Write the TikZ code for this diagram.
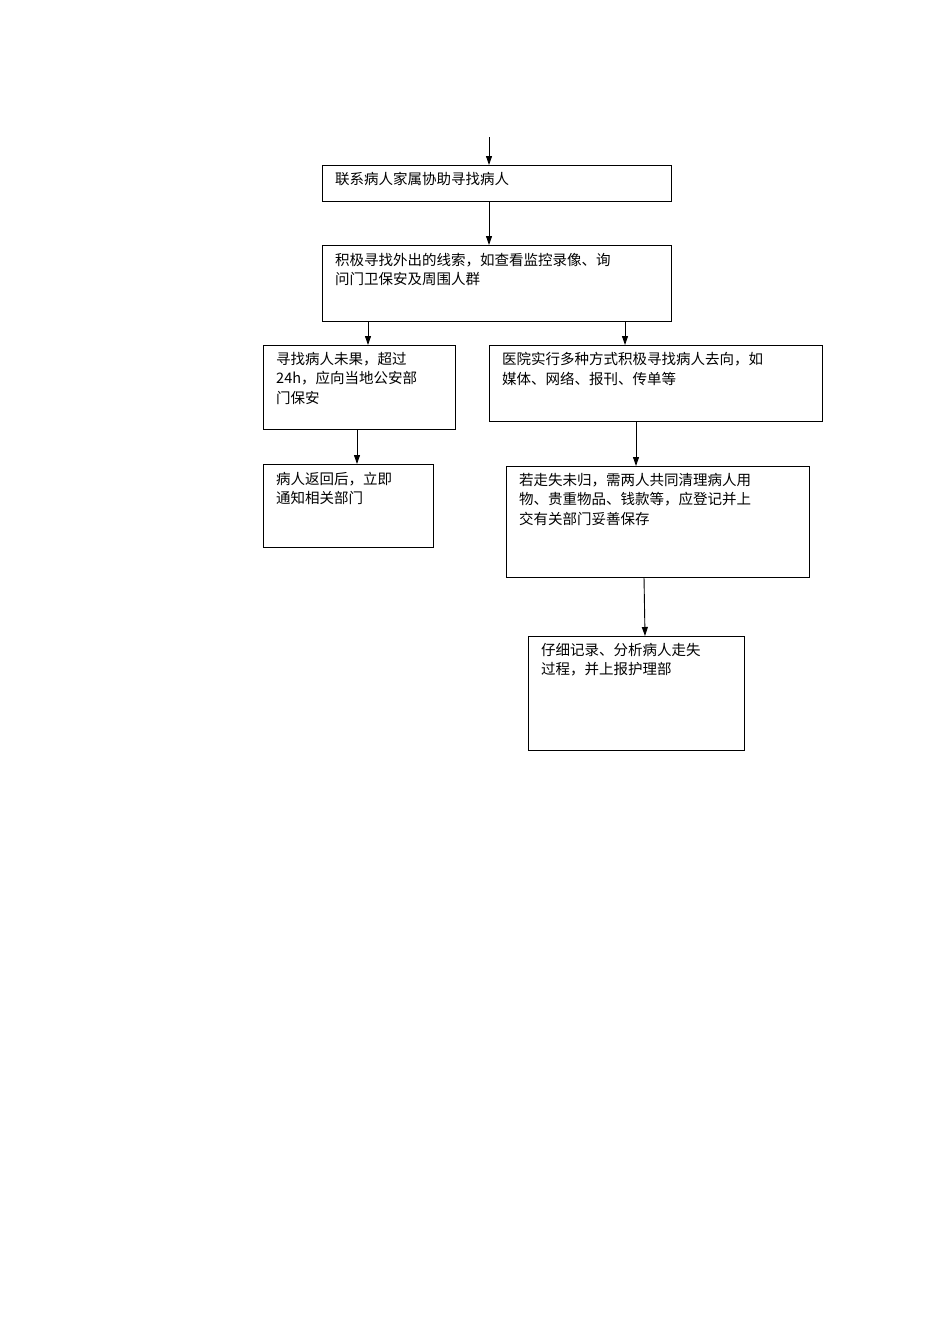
\documentclass[tikz,border=0pt]{standalone}
\usepackage{fontspec}
\setmainfont{Liberation Serif}
\newfontfamily\cjk{Noto Sans CJK SC}
\usetikzlibrary{arrows.meta}
\begin{document}
\begin{tikzpicture}[x=1pt,y=-1pt,
  boxst/.style={draw,line width=0.9pt,inner sep=0pt,anchor=north west},
  txt/.style={anchor=north west,inner sep=0pt,align=left,font=\cjk\fontsize{14.5}{19.5}\selectfont},
  arr/.style={line width=0.9pt,-{Triangle[length=9pt,width=6pt]}}]
\useasboundingbox (0,0) rectangle (950,1344);
\fill[white] (0,0) rectangle (950,1344);
\node[boxst,minimum width=349pt,minimum height=36pt] (b1) at (322,165) {};
\node[boxst,minimum width=349pt,minimum height=76pt] (b2) at (322,245) {};
\node[boxst,minimum width=192pt,minimum height=84pt] (b3) at (263,345) {};
\node[boxst,minimum width=333pt,minimum height=76pt] (b4) at (489,345) {};
\node[boxst,minimum width=170pt,minimum height=83pt] (b5) at (263,464) {};
\node[boxst,minimum width=303pt,minimum height=111pt] (b6) at (506,466) {};
\node[boxst,minimum width=216pt,minimum height=114pt] (b7) at (528,636) {};
\node[txt] (t1) at (335,172) {联系病人家属协助寻找病人};
\node[txt] (t2) at (335,253) {积极寻找外出的线索，如查看监控录像、询\\问门卫保安及周围人群};
\node[txt] (t3) at (276,352) {寻找病人未果，超过\\24h，应向当地公安部\\门保安};
\node[txt] (t4) at (502,352) {医院实行多种方式积极寻找病人去向，如\\媒体、网络、报刊、传单等};
\node[txt] (t5) at (276,472) {病人返回后，立即\\通知相关部门};
\node[txt] (t6) at (519,473) {若走失未归，需两人共同清理病人用\\物、贵重物品、钱款等，应登记并上\\交有关部门妥善保存};
\node[txt] (t7) at (541,643) {仔细记录、分析病人走失\\过程，并上报护理部};
\coordinate (s0) at (489,137);
\coordinate (c1) at (489,0);
\coordinate (c2) at (368,0);
\coordinate (c3) at (625,0);
\coordinate (c4) at (357,0);
\coordinate (c5) at (636,0);
\draw[arr] (s0) -- (b1.north -| c1);
\draw[arr] (b1.south -| c1) -- (b2.north -| c1);
\draw[arr] (b2.south -| c2) -- (b3.north -| c2);
\draw[arr] (b2.south -| c3) -- (b4.north -| c3);
\draw[arr] (b3.south -| c4) -- (b5.north -| c4);
\draw[arr] (b4.south -| c5) -- (b6.north -| c5);
\coordinate (d1) at (644,577);
\coordinate (d2) at (645,636);
\draw[arr] (d1) -- (d2);
\end{tikzpicture}
\end{document}
